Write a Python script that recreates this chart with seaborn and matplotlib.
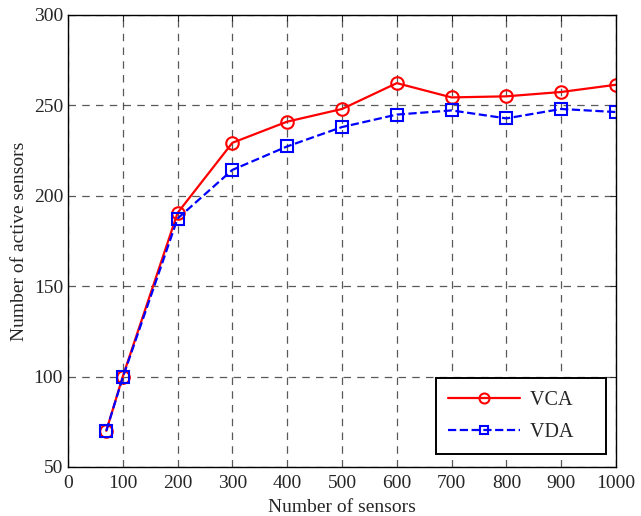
import numpy as np
import pandas as pd
import matplotlib
matplotlib.use("Agg")
import matplotlib.pyplot as plt
import seaborn as sns

sensors = [70, 100, 200, 300, 400, 500, 600, 700, 800, 900, 1000]
vca = [70, 100, 190.5, 229.3, 241, 248, 262.3, 254.4, 255, 257.4, 261.4]
vda = [70, 99.5, 187.4, 214.3, 227.3, 238, 244.9, 247.2, 242.8, 248, 246.3]

sns.set_style("white")
plt.rcParams["font.family"] = ["Liberation Serif", "DejaVu Serif"]

fig = plt.figure(figsize=(6.41, 5.16), dpi=100)
ax = fig.add_axes([0.106, 0.095, 0.855, 0.876])

sns.lineplot(x=sensors, y=vca, ax=ax, color="#ff0000", linestyle="-",
             marker="o", markersize=9, markerfacecolor="none",
             markeredgecolor="#ff0000", markeredgewidth=1.5,
             linewidth=1.6, label="VCA")
sns.lineplot(x=sensors, y=vda, ax=ax, color="#0000ff", linestyle="--",
             marker="s", markersize=8, markerfacecolor="none",
             markeredgecolor="#0000ff", markeredgewidth=1.5,
             linewidth=1.6, label="VDA")

ax.set_xlim(0, 1000)
ax.set_ylim(50, 300)
ax.set_xticks(range(0, 1001, 100))
ax.set_yticks(range(50, 301, 50))
ax.grid(True, color="#222222", linestyle=(0, (6, 5)), linewidth=0.9, alpha=0.75)
ax.tick_params(direction="in", length=4, labelsize=14, width=0.8,
               top=True, right=True)
ax.tick_params(axis="x", pad=6)
for s in ax.spines.values():
    s.set_color("black")
    s.set_linewidth(1.0)

ax.set_xlabel("Number of sensors", fontsize=14, labelpad=5)
ax.set_ylabel("Number of active sensors", fontsize=14, labelpad=4)

handles, labels = ax.get_legend_handles_labels()
labels = [l + "\u2007\u2007" for l in labels]
leg = ax.legend(handles, labels, loc="lower right", bbox_to_anchor=(0.982, 0.029),
                fontsize=14.5, frameon=True, fancybox=False,
                handlelength=3.6, borderpad=0.6, labelspacing=0.65,
                borderaxespad=0.0, markerscale=0.8, handletextpad=0.5)
leg.get_frame().set_edgecolor("black")
leg.get_frame().set_linewidth(1.4)
leg.get_frame().set_alpha(1)

fig.savefig("out.png", dpi=100)
